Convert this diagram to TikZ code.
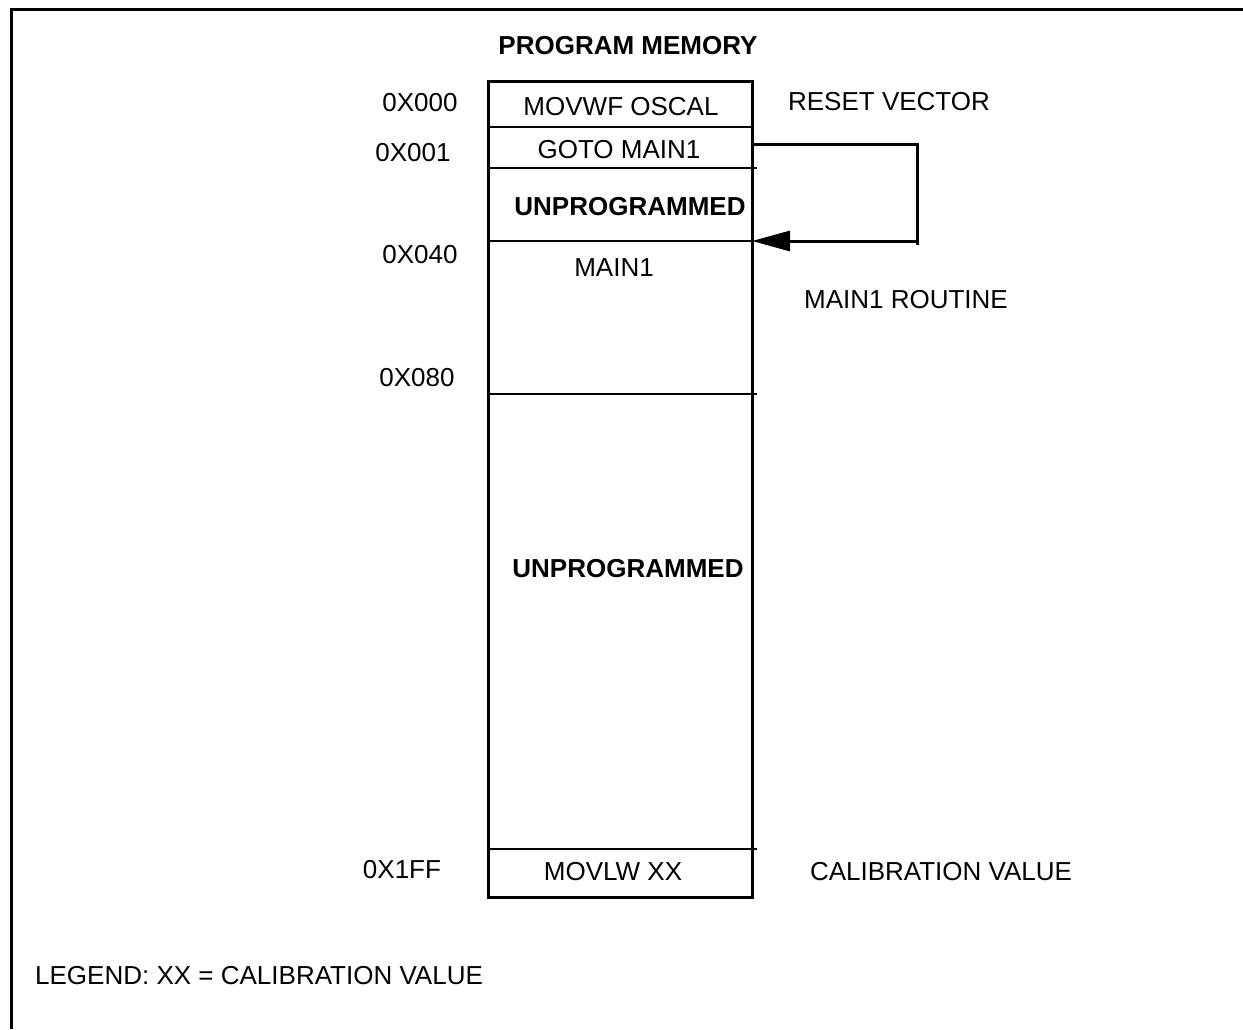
\documentclass[tikz,border=0pt]{standalone}
\usepackage{fontspec}
\setmainfont{Liberation Sans}
\usetikzlibrary{arrows.meta}
\begin{document}
\begin{tikzpicture}[x=1pt,y=-1pt,
  line/.style={line width=3pt},
  thin/.style={line width=2.6pt},
  lbl/.style={inner sep=0pt,font=\fontsize{26}{30}\selectfont},
  blbl/.style={inner sep=0pt,font=\fontsize{26}{30}\selectfont\bfseries},
  jump/.style={line width=3pt,-{Triangle[length=38pt,width=20pt]}}]
\useasboundingbox[fill=white] (0,0) rectangle (1243,1029);
% outer frame (top and left)
\draw[line] (11,1029) -- (11,9.5) -- (1243,9.5);
% memory column
\draw[line] (488,81) rectangle (752,897);
\draw[thin] (488,127) -- (752,127);
\draw[thin] (488,168) -- (757,168);
\draw[thin] (488,241) -- (752,241);
\draw[thin] (488,394) -- (757,394);
\draw[thin] (488,849) -- (757,849);
% texts
\node[blbl] (title) at (628,46) {PROGRAM MEMORY};
\node[lbl] (a000) at (420,103) {0X000};
\node[lbl] (a001) at (413,153) {0X001};
\node[lbl] (a040) at (420,255) {0X040};
\node[lbl] (a080) at (417,378) {0X080};
\node[lbl] (a1ff) at (402,870) {0X1FF};
\node[lbl] (movwf) at (621,107) {MOVWF OSCAL};
\node[lbl] (goto) at (619,150) {GOTO MAIN1};
\node[blbl] (unp1) at (630,207) {UNPROGRAMMED};
\node[lbl] (main1) at (614,268) {MAIN1};
\node[blbl] (unp2) at (628,569) {UNPROGRAMMED};
\node[lbl] (movlw) at (613,872) {MOVLW XX};
\node[lbl] (reset) at (889,102) {RESET VECTOR};
\node[lbl] (routine) at (906,300) {MAIN1 ROUTINE};
\node[lbl] (calib) at (941,872) {CALIBRATION VALUE};
\node[lbl,anchor=west] (legend) at (35,976) {LEGEND: XX = CALIBRATION VALUE};
% jump connector
\coordinate (gotoR) at (752,144);
\coordinate (main1L) at (752,241);
\coordinate (turn) at (917,144);
\draw[line] (gotoR) -- (turn) -- (917,245);
\draw[jump] (turn |- main1L) -- (main1L);
\end{tikzpicture}
\end{document}
